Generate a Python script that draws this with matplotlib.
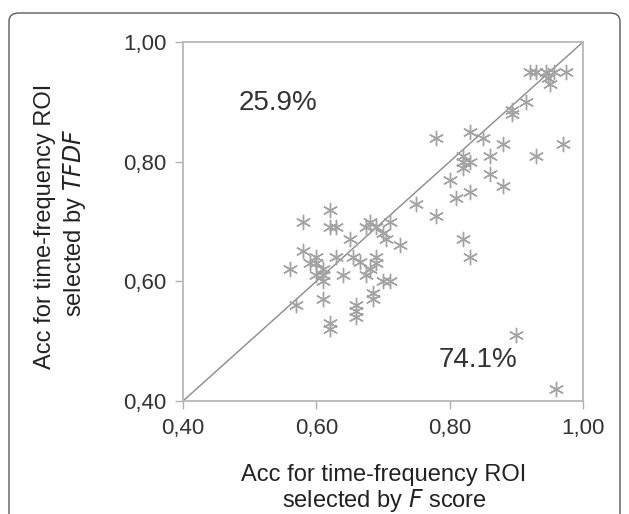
import matplotlib.pyplot as plt
from matplotlib.patches import FancyBboxPatch

plt.rcParams["font.family"] = ["Liberation Sans", "DejaVu Sans"]

# accuracy pairs: x = ROI selected by F score, y = ROI selected by TFDF
acc_fscore = [
    0.92, 0.93, 0.944, 0.956, 0.974, 0.947, 0.95, 0.914, 0.893, 0.893,
    0.97, 0.93, 0.88, 0.85, 0.83, 0.78, 0.82, 0.82, 0.83, 0.82,
    0.86, 0.86, 0.88, 0.80, 0.81, 0.83, 0.75, 0.78, 0.82, 0.83,
    0.90, 0.96,
    0.58, 0.62, 0.62, 0.63, 0.58, 0.56, 0.57, 0.60, 0.60, 0.61,
    0.60, 0.61, 0.59, 0.61, 0.61, 0.62, 0.62, 0.63, 0.64, 0.65,
    0.655, 0.665, 0.66, 0.66, 0.66, 0.675, 0.675, 0.68, 0.68, 0.685,
    0.685, 0.69, 0.69, 0.69, 0.705, 0.71, 0.71, 0.70, 0.725, 0.70,
]
acc_tfdf = [
    0.95, 0.95, 0.95, 0.95, 0.95, 0.94, 0.93, 0.90, 0.887, 0.88,
    0.83, 0.81, 0.83, 0.84, 0.85, 0.84, 0.81, 0.80, 0.80, 0.79,
    0.81, 0.78, 0.76, 0.77, 0.74, 0.75, 0.73, 0.71, 0.67, 0.64,
    0.51, 0.42,
    0.70, 0.72, 0.69, 0.69, 0.65, 0.62, 0.56, 0.64, 0.63, 0.62,
    0.61, 0.61, 0.63, 0.60, 0.57, 0.53, 0.52, 0.64, 0.61, 0.67,
    0.64, 0.633, 0.56, 0.55, 0.54, 0.61, 0.69, 0.70, 0.62, 0.58,
    0.57, 0.69, 0.64, 0.63, 0.67, 0.70, 0.60, 0.60, 0.66, 0.68,
]
ticks = [0.40, 0.60, 0.80, 1.00]
tick_labels = ["0,40", "0,60", "0,80", "1,00"]

W, H = 629, 514
fig = plt.figure(figsize=(W / 100, H / 100), dpi=100)

# rounded outer frame, open at the bottom edge of the image
frame = FancyBboxPatch(
    (9 / W, -20 / H), 611 / W, (H - 13 + 20) / H,
    boxstyle="round,pad=0,rounding_size=0.016",
    transform=fig.transFigure, fill=False, edgecolor="#5a5a5a", linewidth=1.0,
)
fig.patches.append(frame)

ax = fig.add_axes([183 / W, 1 - 401 / H, 400 / W, 359 / H])
ax.plot([0.40, 1.00], [0.40, 1.00], color="#8a8a8a", linewidth=1.0, zorder=1)
ax.plot(acc_fscore, acc_tfdf, linestyle="none", marker=(6, 2, 0), markersize=11,
        markeredgecolor="#a2a2a2", markeredgewidth=1.0, zorder=2)

ax.set_xlim(0.40, 1.00)
ax.set_ylim(0.40, 1.00)
ax.set_xticks(ticks)
ax.set_xticklabels(tick_labels)
ax.set_yticks(ticks)
ax.set_yticklabels(tick_labels)
for s in ax.spines.values():
    s.set_color("#b8b8b8")
    s.set_linewidth(1.3)
ax.tick_params(direction="out", length=6, width=1.0, color="#b0b0b0",
               labelsize=16, labelcolor="#333333", pad=6)

ax.text(0.5425, 0.898, "25.9%", fontsize=20, color="#333333", ha="center", va="center")
ax.text(0.8425, 0.4685, "74.1%", fontsize=20, color="#333333", ha="center", va="center")

lab = dict(fontsize=17, color="#222222", ha="center", va="center")
fig.text(384 / W, 1 - 475 / H, "Acc for time-frequency ROI", **lab)
fig.text(384 / W, 1 - 500 / H, "selected by $\\mathit{F}$ score", **lab)
fig.text(45 / W, 1 - 226 / H, "Acc for time-frequency ROI", rotation=90, **lab)
fig.text(75 / W, 1 - 223 / H, "selected by $\\mathit{TFDF}$", rotation=90, **lab)

fig.savefig("out.png", dpi=100)
